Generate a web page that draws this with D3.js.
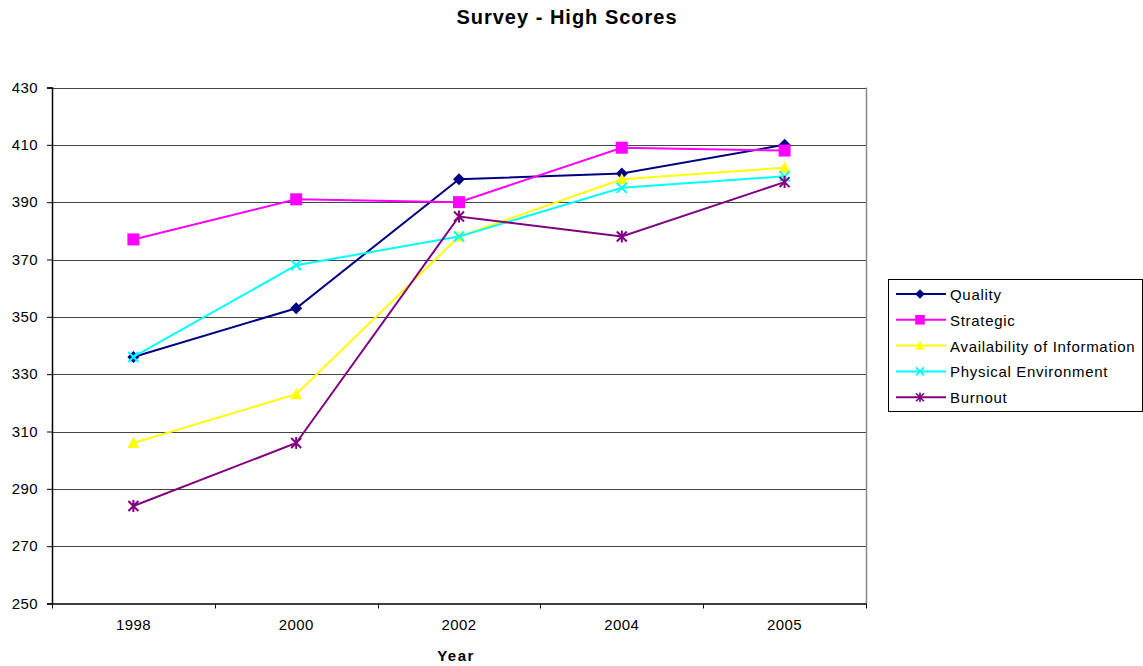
<!DOCTYPE html>
<html>
<head>
<meta charset="utf-8">
<script src="https://cdn.jsdelivr.net/npm/d3@7"></script>
<style>
  body { margin: 0; background: #fff; }
  svg { display: block; font-family: "Liberation Sans", Arial, sans-serif; }
  .tick text { font-size: 15px; fill: #000; letter-spacing: 0.4px; }
</style>
</head>
<body>
<svg id="chart" width="1143" height="666"></svg>
<script>
"use strict";
var years = [ "1998", "2000", "2002", "2004", "2005" ];
var seriesNames = [ "Quality", "Strategic", "Availability of Information", "Physical Environment", "Burnout" ];
var quality = [ 336, 353, 398, 400, 410 ];
var strategic = [ 377, 391, 390, 409, 408 ];
var availability = [ 306, 323, 378, 398, 402 ];
var physical = [ 336, 368, 378, 395, 399 ];
var burnout = [ 284, 306, 385, 378, 397 ];
var yTicks = [ 250, 270, 290, 310, 330, 350, 370, 390, 410, 430 ];

var colors = [ "#000080", "#ff00ff", "#ffff00", "#00ffff", "#800080" ];
var shapes = [ "diamond", "square", "triangle", "cross", "star" ];
var values = [ quality, strategic, availability, physical, burnout ];

var svg = d3.select( "#chart" );
var m = { left: 52, top: 87.5, right: 866, bottom: 603.5 };

var x = d3.scaleBand().domain( years ).range( [ m.left, m.right ] );
var y = d3.scaleLinear().domain( [ 250, 430 ] ).range( [ m.bottom, m.top ] );

// title
svg.append( "text" )
   .attr( "x", 567 ).attr( "y", 24 )
   .attr( "text-anchor", "middle" )
   .attr( "font-size", "20px" ).attr( "font-weight", "bold" )
   .attr( "letter-spacing", "1px" )
   .text( "Survey - High Scores" );

// gridlines
svg.append( "g" ).selectAll( "line" )
   .data( yTicks.slice( 1 ) ).join( "line" )
   .attr( "x1", m.left ).attr( "x2", m.right )
   .attr( "y1", function( d ) { return Math.round( y( d ) ) + 0.5; } )
   .attr( "y2", function( d ) { return Math.round( y( d ) ) + 0.5; } )
   .attr( "stroke", "#444" ).attr( "stroke-width", 1 );

// right border
svg.append( "line" )
   .attr( "x1", m.right + 0.5 ).attr( "x2", m.right + 0.5 )
   .attr( "y1", m.top ).attr( "y2", m.bottom )
   .attr( "stroke", "#888" ).attr( "stroke-width", 1.5 );

// y axis
var yAxis = svg.append( "g" )
   .attr( "transform", "translate(" + m.left + ",0)" )
   .call( d3.axisLeft( y ).tickValues( yTicks ).tickSize( 5 ).tickPadding( 9 ) );
yAxis.select( ".domain" ).attr( "stroke", "#000" ).attr( "stroke-width", 1.5 );
yAxis.selectAll( ".tick line" ).attr( "stroke", "#000" );

// x axis, ticks between categories
var xAxis = svg.append( "g" )
   .attr( "transform", "translate(0," + m.bottom + ")" )
   .call( d3.axisBottom( x ).tickSize( 0 ).tickPadding( 16 ) );
xAxis.select( ".domain" ).attr( "stroke", "#000" ).attr( "stroke-width", 1.5 );
svg.append( "g" ).selectAll( "line" )
   .data( years.concat( [ "end" ] ) ).join( "line" )
   .attr( "x1", function( d, i ) { return Math.round( m.left + i * x.step() ) + 0.5; } )
   .attr( "x2", function( d, i ) { return Math.round( m.left + i * x.step() ) + 0.5; } )
   .attr( "y1", m.bottom ).attr( "y2", m.bottom + 5 )
   .attr( "stroke", "#000" );

svg.append( "text" )
   .attr( "x", 456 ).attr( "y", 661 )
   .attr( "text-anchor", "middle" )
   .attr( "font-size", "15px" ).attr( "font-weight", "bold" )
   .attr( "letter-spacing", "1.5px" )
   .text( "Year" );

function marker( g, shape, color ) {
  if ( shape === "diamond" ) {
    g.append( "path" ).attr( "d", "M0,-6L6,0L0,6L-6,0Z" ).attr( "fill", color );
  } else if ( shape === "square" ) {
    g.append( "rect" ).attr( "x", -6 ).attr( "y", -6 ).attr( "width", 12 ).attr( "height", 12 ).attr( "fill", color );
  } else if ( shape === "triangle" ) {
    g.append( "path" ).attr( "d", "M0,-6L6,5L-6,5Z" ).attr( "fill", color );
  } else if ( shape === "cross" ) {
    g.append( "path" ).attr( "d", "M-5,-5L5,5M-5,5L5,-5" ).attr( "stroke", color ).attr( "stroke-width", 2 );
  } else {
    g.append( "path" ).attr( "d", "M-5,-5L5,5M-5,5L5,-5M0,-6L0,6" ).attr( "stroke", color ).attr( "stroke-width", 2 );
  }
}

var line = d3.line()
   .x( function( d, i ) { return x( years[i] ) + x.bandwidth() / 2; } )
   .y( function( d ) { return y( d ); } );

values.forEach( function( vals, s ) {
  svg.append( "path" )
     .datum( vals )
     .attr( "d", line )
     .attr( "fill", "none" )
     .attr( "stroke", colors[s] )
     .attr( "stroke-width", 2 );
  vals.forEach( function( v, i ) {
    var g = svg.append( "g" )
       .attr( "transform", "translate(" + ( x( years[i] ) + x.bandwidth() / 2 ) + "," + y( v ) + ")" );
    marker( g, shapes[s], colors[s] );
  } );
} );

// legend
var lg = svg.append( "g" );
lg.append( "rect" )
  .attr( "x", 888.5 ).attr( "y", 279.5 ).attr( "width", 254 ).attr( "height", 132 )
  .attr( "fill", "#fff" ).attr( "stroke", "#000" );
seriesNames.forEach( function( name, s ) {
  var ly = 294 + s * 25.8;
  lg.append( "line" )
    .attr( "x1", 896 ).attr( "x2", 946 ).attr( "y1", ly ).attr( "y2", ly )
    .attr( "stroke", colors[s] ).attr( "stroke-width", 2 );
  var g = lg.append( "g" ).attr( "transform", "translate(920," + ly + ") scale(0.8)" );
  marker( g, shapes[s], colors[s] );
  lg.append( "text" )
    .attr( "x", 950 ).attr( "y", ly + 6 )
    .attr( "font-size", "15px" )
    .attr( "letter-spacing", "0.7px" )
    .text( name );
} );
</script>
</body>
</html>
